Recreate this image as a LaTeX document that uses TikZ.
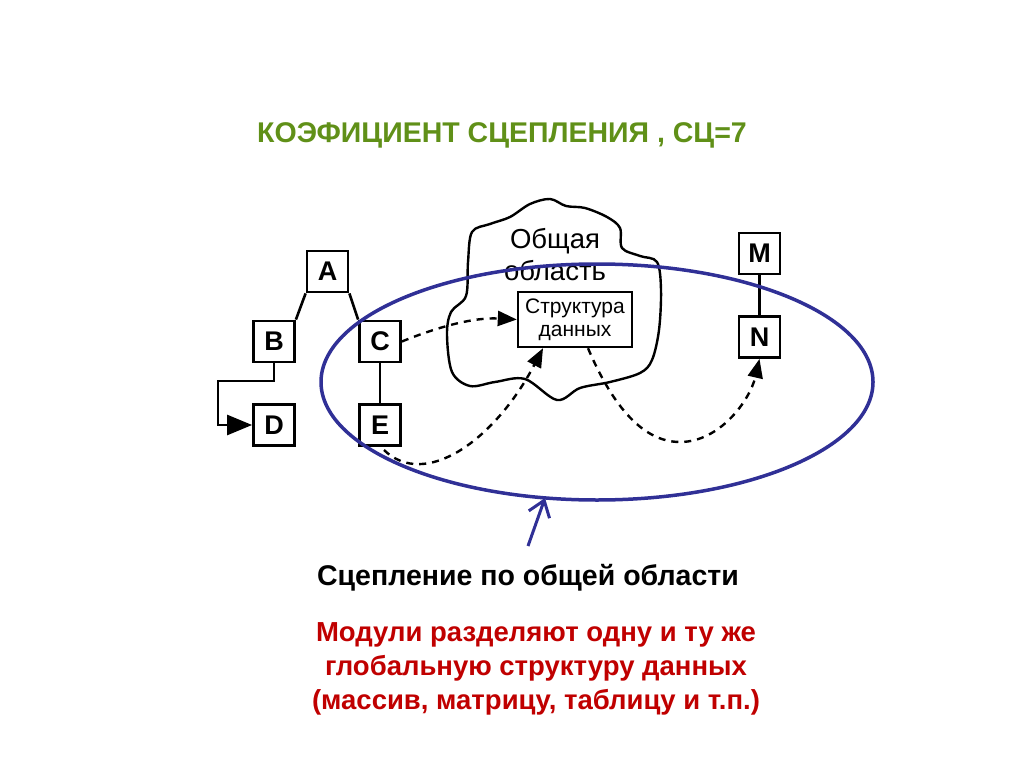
\documentclass[tikz,border=0pt]{standalone}
\usepackage{fontspec}
\setmainfont{Liberation Sans}
\usetikzlibrary{arrows.meta,calc}
\definecolor{titlegreen}{RGB}{96,144,24}
\definecolor{notered}{RGB}{192,0,0}
\definecolor{ringblue}{RGB}{48,48,150}
\tikzset{
  modbox/.style={
    draw=black,
    line width=2.8pt,
    minimum size=41pt,
    inner sep=0pt,
    font=\fontsize{27}{29}\selectfont\bfseries
  },
  datbox/.style={
    draw=black,
    line width=2.4pt,
    minimum width=114pt,
    minimum height=55pt,
    inner sep=0pt,
    align=center,
    font=\fontsize{21}{23}\selectfont
  },
  link/.style={
    draw=black,
    line width=2.6pt
  },
  dashlink/.style={
    draw=black,
    line width=2.4pt,
    dash pattern=on 7pt off 6pt,
    -{Triangle[length=19pt,width=15pt]}
  },
  cloudline/.style={
    draw=black,
    line width=2.4pt
  },
  ring/.style={
    draw=ringblue,
    line width=3.5pt
  },
  pointer/.style={
    draw=ringblue,
    line width=3pt,
    -{Straight Barb[length=15pt,width=22pt]}
  }
}

\begin{document}
\begin{tikzpicture}[x=1pt,y=1pt]

  % Page frame, in pixel units of the slide.
  \useasboundingbox (0,0) rectangle (1024,-767);

  % Title.
  \node[font=\fontsize{28.5}{32}\selectfont\bfseries,text=titlegreen] (title)
    at (502,-135) {КОЭФИЦИЕНТ СЦЕПЛЕНИЯ , СЦ=7};

  % Common area outline.
  \draw[cloudline] plot[smooth cycle,tension=0.55] coordinates {
    (472,-232) (490,-224) (510,-217) (530,-204) (550,-199) (566,-206)
    (585,-208) (607,-217) (620,-228) (622,-248) (640,-256) (657,-262)
    (661,-290) (659,-330) (652,-360) (640,-373) (610,-382) (580,-388)
    (557,-400) (525,-379) (495,-382) (470,-386) (452,-372) (447,-335)
    (451,-312) (466,-296) (468,-262)};
  \node[font=\fontsize{27.5}{32}\selectfont,align=center] (areaLabel)
    at (555,-255) {Общая\\область};
  \node[datbox] (dataBox) at (575,-319.5) {Структура\\данных};

  % Modules.
  \node[modbox] (boxA) at (327.5,-271.5) {A};
  \node[modbox] (boxB) at (274,-341.5) {B};
  \node[modbox] (boxC) at (380,-341.5) {C};
  \node[modbox] (boxD) at (274,-425) {D};
  \node[modbox] (boxE) at (380,-425) {E};
  \node[modbox] (boxM) at (759.5,-253.5) {M};
  \node[modbox] (boxN) at (759.5,-337) {N};

  % Calls between modules.
  \draw[link] (boxA.south west) -- (boxB.north east);
  \draw[link] (boxA.south east) -- (boxC.north west);
  \draw[link] (boxC) -- (boxE);
  \draw[link] (boxM) -- (boxN);
  \coordinate (bendBD) at (218,-381);
  \draw[link,-{Triangle[length=25pt,width=20pt]}]
    (boxB.south) |- (bendBD) |- (boxD.west);

  % Accesses to the shared data.
  \coordinate (eTail) at (384,-450);
  \draw[dashlink] (boxC.east) .. controls (430,-330) and (470,-317) .. (dataBox.west);
  \draw[dashlink] (eTail) .. controls (425,-490) and (495,-440) .. ($(dataBox.south)+(-32,0)$);
  \draw[dashlink] ($(dataBox.south)+(13,0)$) .. controls (610,-400) and (640,-442) .. (680,-442)
    .. controls (720,-442) and (750,-400) .. (boxN.south);

  % Coupled modules.
  \draw[ring] (597,-382) ellipse [x radius=276,y radius=118];
  \coordinate (pTail) at (528,-546);
  \coordinate (pTip) at (545,-498);
  \draw[pointer] (pTail) -- (pTip);

  % Captions.
  \node[font=\fontsize{28.5}{32}\selectfont\bfseries] (caption)
    at (528,-578) {Сцепление по общей области};
  \node[font=\fontsize{27.5}{34}\selectfont\bfseries,text=notered,align=center] (note)
    at (536,-669) {Модули разделяют одну и ту же\\глобальную структуру данных\\(массив, матрицу, таблицу и т.п.)};

\end{tikzpicture}
\end{document}
